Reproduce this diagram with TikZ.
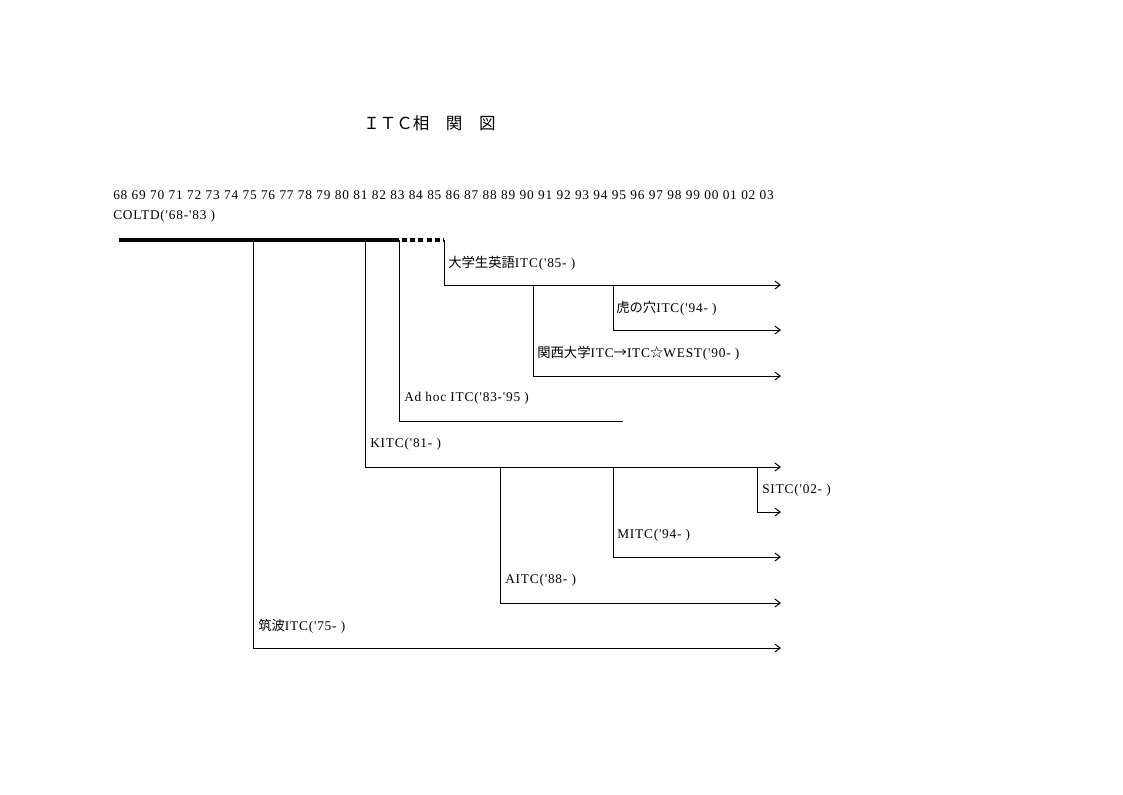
\documentclass[tikz,border=0pt]{standalone}
\usepackage{fontspec}
\setmainfont{Liberation Serif}[Ligatures=TeXOff,LetterSpace=6]
\newfontfamily\cjk{Noto Sans CJK JP}
\usetikzlibrary{arrows.meta}
\begin{document}
\begin{tikzpicture}[x=0.75pt,y=-0.75pt,
  lbl/.style={anchor=west,inner sep=0pt,font=\fontsize{10}{12}\selectfont},
  ln/.style={line width=0.75pt},
  arr/.style={ln,-{Straight Barb[length=4pt,width=6pt]}},
  mainln/.style={line width=2.3pt},
  dmainln/.style={line width=2.3pt,dash pattern=on 3.6pt off 2.6pt,dash phase=-2.2pt}]
\useasboundingbox (0,0) rectangle (1123,794);
\fill[white] (0,0) rectangle (1123,794);
% title
\node[anchor=west,inner sep=0pt,font=\cjk\fontsize{12.4}{14}\selectfont] (title) at (363,123) {ＩＴＣ相　関　図};
% year axis
\foreach \yr [count=\i from 0] in {68,69,70,71,72,73,74,75,76,77,78,79,80,81,82,83,84,85,86,87,88,89,90,91,92,93,94,95,96,97,98,99,00,01,02,03}
  \node[lbl] (yr\i) at ({113+18.47*\i},195) {\yr};
\node[lbl] (coltd) at (113,216) {COLTD('68-'83 )};
% labels
\node[lbl] (daigaku) at (448,263) {{\cjk 大学生英語}ITC('85- )};
\node[lbl] (tora) at (616,308) {{\cjk 虎の穴}ITC('94- )};
\node[lbl] (kansai) at (537,353) {{\cjk 関西大学}ITC{\cjk →}ITC{\cjk ☆}WEST('90- )};
\node[lbl] (adhoc) at (404,398) {Ad hoc ITC('83-'95 )};
\node[lbl] (kitc) at (370,444) {KITC('81- )};
\node[lbl] (sitc) at (762,490) {SITC('02- )};
\node[lbl] (mitc) at (617,535) {MITC('94- )};
\node[lbl] (aitc) at (505,580) {AITC('88- )};
\node[lbl] (tsukuba) at (258,626) {{\cjk 筑波}ITC('75- )};
% junction coordinates
\coordinate (s0) at (119,240);
\coordinate (j75) at (253,240);
\coordinate (j81) at (365,240);
\coordinate (j83) at (399,240);
\coordinate (j85) at (444,240);
\coordinate (d0) at (444,285);
\coordinate (dE) at (781,285);
\coordinate (k90a) at (533,285);
\coordinate (k90b) at (533,376);
\coordinate (k90E) at (781,376);
\coordinate (t94a) at (613,285);
\coordinate (t94b) at (613,330);
\coordinate (t94E) at (781,330);
\coordinate (a83) at (399,421);
\coordinate (a95) at (623,421);
\coordinate (k81) at (365,467);
\coordinate (k81E) at (781,467);
\coordinate (a88a) at (500,467);
\coordinate (a88b) at (500,603);
\coordinate (a88E) at (781,603);
\coordinate (m94a) at (613,467);
\coordinate (m94b) at (613,557);
\coordinate (m94E) at (781,557);
\coordinate (s02a) at (757,467);
\coordinate (s02b) at (757,512);
\coordinate (s02E) at (781,512);
\coordinate (t75) at (253,648);
\coordinate (t75E) at (781,648);
% COLTD main line
\draw[mainln] (s0) -- (j83);
\draw[dmainln] (j83) -- (j85);
% branches
\draw[arr] (j85) -- (d0) -- (dE);
\draw[arr] (k90a) -- (k90b) -- (k90E);
\draw[arr] (t94a) -- (t94b) -- (t94E);
\draw[ln] (j83) -- (a83) -- (a95);
\draw[arr] (j81) -- (k81) -- (k81E);
\draw[arr] (a88a) -- (a88b) -- (a88E);
\draw[arr] (m94a) -- (m94b) -- (m94E);
\draw[arr] (s02a) -- (s02b) -- (s02E);
\draw[arr] (j75) -- (t75) -- (t75E);
\end{tikzpicture}
\end{document}
